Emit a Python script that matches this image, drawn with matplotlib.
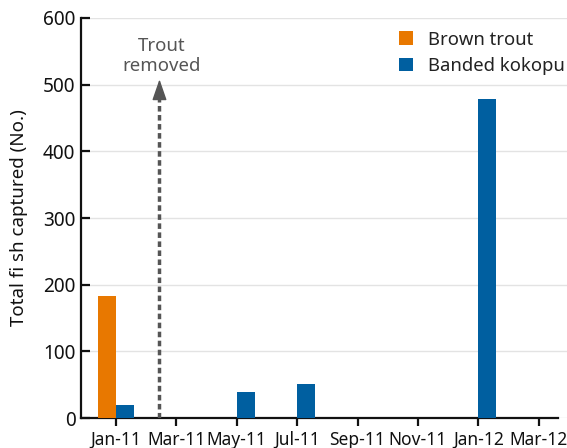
import matplotlib
matplotlib.use("Agg")
import matplotlib.pyplot as plt
import numpy as np

plt.rcParams['font.family'] = ['Noto Sans', 'DejaVu Sans']

months = ["Jan-11", "Mar-11", "May-11", "Jul-11", "Sep-11", "Nov-11", "Jan-12", "Mar-12"]
brown_trout = [183, 0, 0, 0, 0, 0, 0, 0]
banded_kokopu = [19, 0, 39, 51, 0, 0, 478, 0]
removal_position = 0.72   # between Jan-11 and Mar-11
removal_arrow_top = 508

orange = "#E87800"
blue = "#005FA0"
grey = "#555555"

fig = plt.figure(figsize=(5.67, 4.48), dpi=100)
ax = fig.add_axes([81/567, 30/448, (567-81)/567, 400/448])

x = np.arange(len(months))
w = 0.30
ax.bar(x - w/2, brown_trout, width=w, color=orange, label="Brown trout", zorder=3)
ax.bar(x + w/2, banded_kokopu, width=w, color=blue, label="Banded kokopu", zorder=3)

ax.set_ylim(0, 600)
ax.set_yticks(np.arange(0, 601, 100))
ax.set_xlim(-0.58, 7.47)
ax.set_xticks(x)
ax.set_xticklabels(months)
ax.yaxis.grid(True, color="#e3e3e3", lw=1, zorder=0)
ax.set_axisbelow(True)

for s in ["top", "right"]:
    ax.spines[s].set_visible(False)
for s in ["left", "bottom"]:
    ax.spines[s].set_linewidth(1.6)
    ax.spines[s].set_color("#111111")
ax.spines["bottom"].set_bounds(-0.58, 7.32)

ax.tick_params(axis="y", direction="in", length=6.5, width=1.6, labelsize=13.7, pad=4, colors="#111111")
ax.tick_params(axis="x", direction="out", length=6, width=1.6, labelsize=12.5, pad=3, colors="#111111")
ax.set_ylabel("Total fi sh captured (No.)", fontsize=13.5, color="#111111", labelpad=10.5)

# trout removal marker: dashed shaft plus solid arrow head
ax.plot([removal_position, removal_position], [0, removal_arrow_top - 20], color=grey,
        lw=2.5, linestyle=(0, (1.6, 1.0)), zorder=4, solid_capstyle="butt")
ax.annotate("", xy=(removal_position, removal_arrow_top), xytext=(removal_position, removal_arrow_top - 24),
            arrowprops=dict(arrowstyle="-|>,head_length=1.3,head_width=0.45", color=grey,
                            lw=1.0, shrinkA=0, shrinkB=0), zorder=5)
ax.text(removal_position + 0.04, 543, "Trout\nremoved", ha="center", va="center",
        fontsize=13.4, color=grey, linespacing=1.1)

leg = ax.legend(loc="upper right", bbox_to_anchor=(1.03, 1.01), frameon=False, fontsize=13.3,
                handlelength=0.75, handleheight=0.75, handletextpad=0.8, labelspacing=0.45)
for t in leg.get_texts():
    t.set_color("#222222")

fig.savefig("out.png", dpi=100)
